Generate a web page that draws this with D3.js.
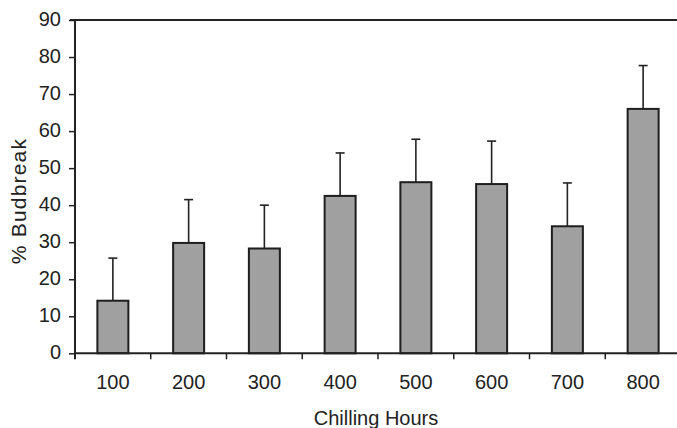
<!DOCTYPE html>
<html>
<head>
<meta charset="utf-8">
<script src="https://cdn.jsdelivr.net/npm/d3@7"></script>
<style>
  body { margin: 0; background: #fff; }
  text { font-family: "Liberation Sans", Arial, sans-serif; fill: #222; }
</style>
</head>
<body>
<svg id="chart" width="677" height="428"></svg>
<script>
const hours = ['100', '200', '300', '400', '500', '600', '700', '800'];
const budbreak = [14.2, 29.8, 28.3, 42.5, 46.2, 45.7, 34.3, 66.0];
const errTop = [25.7, 41.5, 40.0, 54.1, 57.8, 57.3, 46.0, 77.7];
const yTicks = [0, 10, 20, 30, 40, 50, 60, 70, 80, 90];

const svg = d3.select('#chart');
const plotLeft = 75, plotRight = 681, plotTop = 20, plotBottom = 353.3;

const x = d3.scaleBand().domain(hours).range([plotLeft, plotRight]).paddingInner(0).paddingOuter(0);
const y = d3.scaleLinear().domain([0, 90]).range([plotBottom, plotTop]);

// top frame line
svg.append('line')
  .attr('x1', plotLeft - 5).attr('x2', 677)
  .attr('y1', y(90)).attr('y2', y(90))
  .attr('stroke', '#222').attr('stroke-width', 2);

// bars
const barW = 31;
svg.append('g')
  .selectAll('rect')
  .data(budbreak)
  .join('rect')
  .attr('x', (d, i) => x(hours[i]) + x.bandwidth() / 2 - barW / 2)
  .attr('y', d => y(d))
  .attr('width', barW)
  .attr('height', d => y(0) - y(d))
  .attr('fill', '#a0a0a0')
  .attr('stroke', '#1e1e1e')
  .attr('stroke-width', 2);

// error bars (upper only)
const err = svg.append('g').attr('stroke', '#222').attr('stroke-width', 1.6);
err.selectAll('line.stem')
  .data(errTop)
  .join('line')
  .attr('class', 'stem')
  .attr('x1', (d, i) => x(hours[i]) + x.bandwidth() / 2)
  .attr('x2', (d, i) => x(hours[i]) + x.bandwidth() / 2)
  .attr('y1', (d, i) => y(budbreak[i]))
  .attr('y2', d => y(d));
err.selectAll('line.cap')
  .data(errTop)
  .join('line')
  .attr('class', 'cap')
  .attr('x1', (d, i) => x(hours[i]) + x.bandwidth() / 2 - 4.5)
  .attr('x2', (d, i) => x(hours[i]) + x.bandwidth() / 2 + 4.5)
  .attr('y1', d => y(d))
  .attr('y2', d => y(d));

// y axis
const yAxis = svg.append('g')
  .attr('transform', `translate(${plotLeft},0)`)
  .call(d3.axisLeft(y).tickValues(yTicks).tickSize(6).tickPadding(8));
yAxis.select('.domain').remove();
yAxis.append('line')
  .attr('y1', y(90)).attr('y2', plotBottom + 6)
  .attr('stroke', '#222').attr('stroke-width', 2);
yAxis.selectAll('.tick line').attr('stroke', '#222').attr('stroke-width', 1.5);
yAxis.selectAll('.tick text')
  .style('font-size', '20px')
  .attr('fill', '#222')
  .attr('dy', '0.28em');

// x axis
const xAxis = svg.append('g').attr('transform', `translate(0,${plotBottom})`);
xAxis.append('line')
  .attr('x1', plotLeft).attr('x2', 677)
  .attr('stroke', '#222').attr('stroke-width', 2);
xAxis.selectAll('line.tick')
  .data(hours.slice(1))
  .join('line')
  .attr('class', 'tick')
  .attr('x1', d => x(d)).attr('x2', d => x(d))
  .attr('y1', 0).attr('y2', 6)
  .attr('stroke', '#222').attr('stroke-width', 1.5);
xAxis.selectAll('text')
  .data(hours)
  .join('text')
  .attr('x', d => x(d) + x.bandwidth() / 2)
  .attr('y', 36)
  .attr('text-anchor', 'middle')
  .style('font-size', '20px')
  .text(d => d);

// axis titles
svg.append('text')
  .attr('x', 376)
  .attr('y', 425)
  .attr('text-anchor', 'middle')
  .style('font-size', '20px')
  .text('Chilling Hours');

svg.append('text')
  .attr('transform', 'translate(26,201) rotate(-90)')
  .attr('text-anchor', 'middle')
  .style('font-size', '21px')
  .style('letter-spacing', '1.2px')
  .text('% Budbreak');
</script>
</body>
</html>
